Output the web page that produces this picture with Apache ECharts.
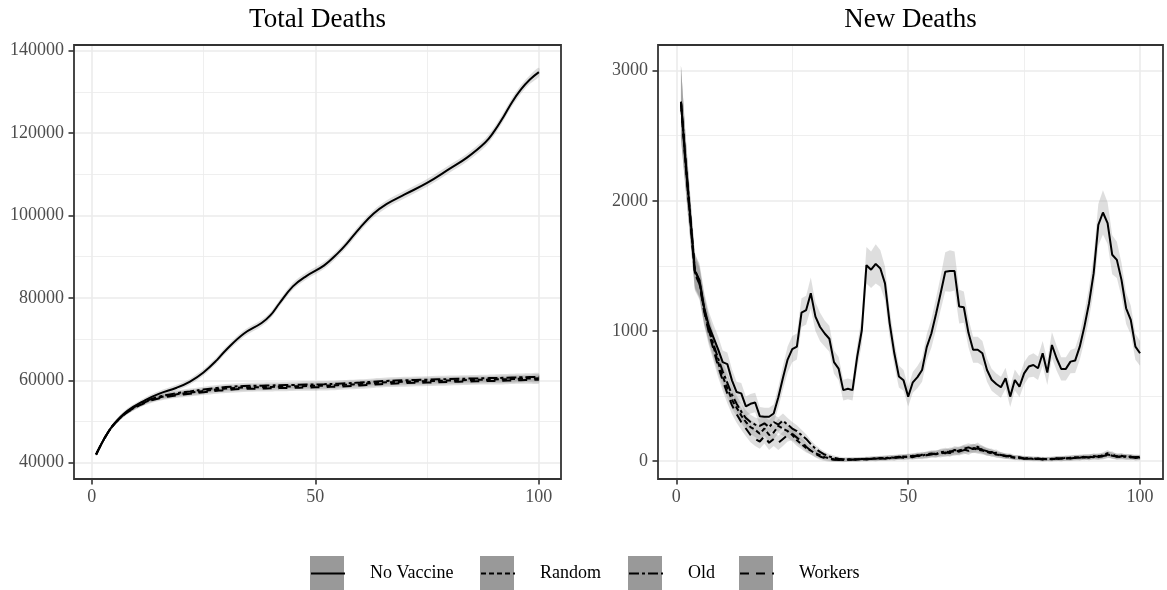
<!DOCTYPE html>
<html>
<head>
<meta charset="utf-8">
<script src="https://cdn.jsdelivr.net/npm/echarts@6/dist/echarts.min.js"></script>
<style>html,body{margin:0;padding:0;background:#fff}#c{width:1167px;height:590px}</style>
</head>
<body>
<div id="c"></div>
<script>
// ---------- data ----------
const seriesNames = ['No Vaccine', 'Random', 'Old', 'Workers'];
const panelTitles = ['Total Deaths', 'New Deaths'];
const xTicks = [0, 50, 100];
const totalYTicks = [40000, 60000, 80000, 100000, 120000, 140000];
const newYTicks = [0, 1000, 2000, 3000];

// Total deaths (sampled days, smooth curves)
const tTotal = [1,3,5,8,12,15,19,22,25,28,30,34,38,40,42,45,48,52,55,57,60,63,66,70,75,80,84,88,90,92,94,96,98,100];
const totalNoVaccine = [42000,46200,49400,52600,55200,56700,58200,59700,61900,64900,67300,71300,73900,75800,78700,82800,85300,87900,90800,93100,97000,100400,102800,105100,107900,111300,114100,117700,120400,123800,127500,130600,133000,134800];
const totalRandom = [42000,46150,49300,52300,54700,55800,56600,57000,57400,57800,58000,58250,58350,58400,58450,58520,58600,58700,58820,58920,59100,59300,59500,59650,59800,59950,60050,60150,60200,60250,60320,60380,60430,60480];
const totalOld = [42000,46150,49300,52350,54850,56000,56850,57300,57750,58150,58350,58600,58700,58750,58800,58870,58950,59050,59170,59270,59450,59650,59850,60000,60150,60300,60400,60500,60550,60600,60670,60730,60780,60830];
const totalWorkers = [42000,46150,49300,52250,54550,55600,56350,56750,57100,57450,57650,57900,58000,58050,58100,58170,58250,58350,58470,58570,58750,58950,59150,59300,59450,59600,59700,59800,59850,59900,59970,60030,60080,60130];
const totalBandNoVaccine = [350,450,550,600,650,650,700,700,750,750,750,800,800,800,800,850,850,850,850,900,900,900,900,900,950,950,950,1000,1000,1000,1000,1050,1050,1050];
const totalBandVaccine = [300,400,450,500,550,600,650,700,700,700,750,750,750,750,750,750,800,800,800,800,800,800,800,850,850,850,850,850,850,900,900,900,900,900];

// New deaths, days 1..100
const newNoVaccine = [2760,2300,1880,1460,1390,1180,1040,950,860,760,
745,620,530,520,420,440,450,345,340,340,
365,490,640,780,860,880,1140,1160,1290,1110,
1030,980,940,760,710,545,555,545,800,1005,
1505,1470,1515,1480,1365,1060,830,650,620,495,
605,645,700,875,980,1130,1290,1455,1460,1460,
1187,1182,985,855,855,828,700,625,592,567,
636,495,623,572,674,726,738,713,828,680,
892,790,708,708,764,772,879,1033,1213,1444,
1815,1910,1828,1585,1546,1392,1174,1085,879,828];
const newRandom = [2760,2290,1860,1450,1370,1160,1010,880,760,650,
560,470,410,350,300,260,240,210,250,200,
220,270,250,230,200,160,130,100,80,60,
45,30,20,14,10,8,12,9,14,12,
18,15,22,19,26,22,30,27,35,31,
40,36,48,44,55,52,64,60,75,70,
82,90,78,98,88,80,70,62,50,44,
38,30,28,22,24,18,20,15,17,14,
18,16,22,19,26,24,30,27,34,30,
38,34,50,42,36,40,30,34,26,28];
const newOld = [2760,2310,1890,1470,1380,1170,1020,900,790,690,
600,510,440,380,330,300,280,270,290,260,
300,280,310,280,250,230,200,170,130,95,
70,50,35,25,18,14,12,15,11,16,
14,20,17,24,21,28,25,33,29,38,
34,45,41,52,58,54,68,74,66,85,
78,95,105,92,110,86,76,58,64,46,
40,34,26,30,20,23,16,19,13,17,
15,21,18,25,22,29,26,33,28,38,
32,45,60,40,34,30,36,27,32,30];
const newWorkers = [2760,2280,1850,1440,1360,1150,990,860,730,620,
520,430,360,300,250,200,170,150,190,140,
170,140,170,200,210,180,150,110,80,55,
35,22,15,10,8,6,9,12,10,14,
12,17,14,21,18,25,22,30,26,34,
30,40,37,46,50,58,55,66,62,76,
72,84,92,100,94,90,66,70,52,48,
36,40,25,26,18,21,14,17,12,16,
13,19,15,22,20,26,23,31,27,35,
30,38,46,52,32,36,28,33,24,26];
const newBandNoVaccine = [280,200,160,130,130,120,110,100,100,90,
90,85,80,80,75,75,75,70,70,70,
70,80,90,100,100,100,110,110,120,110,
110,100,100,90,90,80,80,80,90,110,
140,140,150,140,130,110,95,85,80,75,
80,85,90,100,110,120,130,150,160,150,
130,120,110,100,100,95,90,85,80,80,
80,80,80,80,85,85,90,90,95,95,
100,95,90,90,90,95,100,110,120,140,
160,170,160,150,140,130,120,110,100,95];
const newBandVaccine = [280,200,160,130,120,110,100,90,85,80,
75,70,65,60,60,55,55,55,55,55,
55,55,55,50,50,45,40,35,30,28,
25,22,20,18,16,15,15,15,15,15,
16,16,17,17,18,18,19,19,20,20,
21,22,23,24,25,26,27,28,29,30,
30,31,32,33,32,30,28,26,24,22,
20,19,18,17,16,16,16,16,16,16,
17,17,18,18,19,19,20,20,21,21,
22,22,24,24,22,21,20,20,19,19];
const days = newNoVaccine.map((_, i) => i + 1);

// ---------- styling ----------
const FONT = 'Liberation Serif';
const dashes = {'No Vaccine': 'solid', 'Random': [5, 3], 'Old': [10, 3, 3, 3], 'Workers': [9, 7]};
const legendBoxX = [310, 480, 628, 739];
const grids = [
  {left: 74, top: 45, width: 487, height: 434},
  {left: 658, top: 45, width: 505, height: 434}
];

function measure(text, size) {
  const ctx = document.createElement('canvas').getContext('2d');
  ctx.font = size + 'px "' + FONT + '"';
  return ctx.measureText(text).width;
}

function xAxis(gi) {
  return {
    type: 'value', gridIndex: gi, min: -3.95, max: 104.95, splitNumber: 2,
    axisLine: {show: false, onZero: false},
    axisTick: {show: true, length: 5.5, customValues: xTicks, lineStyle: {color: '#333333', width: 1.6}},
    axisLabel: {customValues: xTicks, margin: 9, color: '#4D4D4D', fontFamily: FONT, fontSize: 18, formatter: v => String(v)},
    splitLine: {show: true, lineStyle: {color: '#EBEBEB', width: 1.6}},
    minorTick: {show: false, splitNumber: 2},
    minorSplitLine: {show: true, lineStyle: {color: '#EBEBEB', width: 0.8}}
  };
}
function yAxis(gi, min, max, splitNumber, ticks) {
  return {
    type: 'value', gridIndex: gi, min, max, splitNumber,
    axisLine: {show: false, onZero: false},
    axisTick: {show: true, length: 5.5, customValues: ticks, lineStyle: {color: '#333333', width: 1.6}},
    axisLabel: {customValues: ticks, margin: 10, color: '#4D4D4D', fontFamily: FONT, fontSize: 18, formatter: v => String(v)},
    splitLine: {show: true, lineStyle: {color: '#EBEBEB', width: 1.6}},
    minorTick: {show: false, splitNumber: 2},
    minorSplitLine: {show: true, lineStyle: {color: '#EBEBEB', width: 0.8}}
  };
}

function ribbon(name, gi, ts, vals, hw, smooth) {
  const lower = vals.map((v, i) => v - hw[i]);
  const upper = vals.map((v, i) => v + hw[i]);
  return {
    type: 'custom', name: name + ' band', xAxisIndex: gi, yAxisIndex: gi, z: 2, silent: true,
    data: [[ts[0], vals[0]]],
    encode: {x: 0, y: 1},
    renderItem: function (params, api) {
      if (params.dataIndex !== 0) return;
      const pts = [];
      for (let i = 0; i < ts.length; i++) pts.push(api.coord([ts[i], upper[i]]));
      for (let i = ts.length - 1; i >= 0; i--) pts.push(api.coord([ts[i], lower[i]]));
      return {type: 'polygon', shape: {points: pts, smooth: smooth ? 0.3 : 0}, style: {fill: 'rgba(128,128,128,0.26)'}};
    }
  };
}
function line(name, gi, ts, vals, smooth) {
  return {
    type: 'line', name, xAxisIndex: gi, yAxisIndex: gi, z: 3, silent: true,
    data: ts.map((t, i) => [t, vals[i]]),
    symbol: 'none', showSymbol: false, smooth: smooth ? 0.4 : false,
    lineStyle: {color: '#000', width: 2, type: dashes[name]},
    itemStyle: {color: '#000'}
  };
}

const totals = [totalNoVaccine, totalRandom, totalOld, totalWorkers];
const totalBands = [totalBandNoVaccine, totalBandVaccine, totalBandVaccine, totalBandVaccine];
const news = [newNoVaccine, newRandom, newOld, newWorkers];
const newBands = [newBandNoVaccine, newBandVaccine, newBandVaccine, newBandVaccine];

const series = [];
seriesNames.forEach((n, k) => series.push(line(n, 0, tTotal, totals[k], true)));
seriesNames.forEach((n, k) => series.push(line(n, 1, days, news[k], false)));
seriesNames.forEach((n, k) => series.push(ribbon(n, 0, tTotal, totals[k], totalBands[k], true)));
seriesNames.forEach((n, k) => series.push(ribbon(n, 1, days, news[k], newBands[k], false)));

const titles = panelTitles.map((t, i) => {
  const cx = grids[i].left + grids[i].width / 2;
  return {text: t, left: cx - measure(t, 27) / 2, top: 6, padding: 0,
    textStyle: {fontFamily: FONT, fontSize: 27, fontWeight: 'normal', color: '#000'}};
});

const option = {
  animation: false,
  backgroundColor: '#fff',
  title: titles,
  grid: grids.map(g => Object.assign({show: true, borderColor: '#333333', borderWidth: 1.8, backgroundColor: 'transparent', z: 5}, g)),
  xAxis: [xAxis(0), xAxis(1)],
  yAxis: [yAxis(0, 36040, 141380, 5, totalYTicks), yAxis(1, -138, 3197, 3, newYTicks)],
  legend: seriesNames.map((n, i) => ({
    data: [n], left: legendBoxX[i], top: 560, padding: 0, itemWidth: 34, itemHeight: 34, itemGap: 0,
    selectedMode: false,
    textStyle: {fontFamily: FONT, fontSize: 18, color: '#000', padding: [0, 0, 0, 20]},
    itemStyle: {opacity: 0},
    lineStyle: {width: 2}
  })),
  graphic: legendBoxX.map(x => ({type: 'rect', x: x, y: 556, z: 0, silent: true,
    shape: {x: 0, y: 0, width: 34, height: 34}, style: {fill: '#999999'}})),
  series
};
const chart = echarts.init(document.getElementById('c'), null, {renderer: 'canvas', width: 1167, height: 590});
chart.setOption(option);
</script>
</body>
</html>
